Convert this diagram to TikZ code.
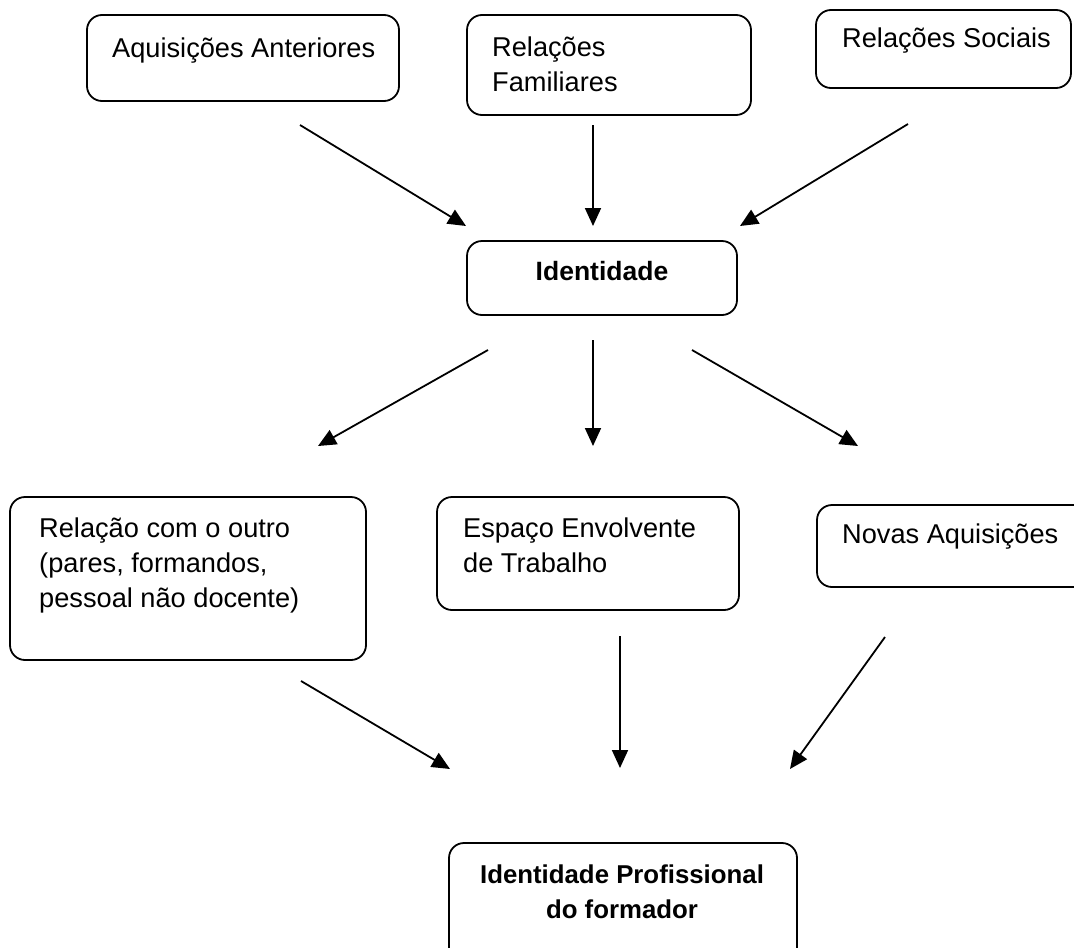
\documentclass[tikz,border=0pt]{standalone}
\usepackage{fontspec}
\setmainfont{Liberation Sans}
\usetikzlibrary{arrows.meta}
\begin{document}
\begin{tikzpicture}[x=1pt,y=-1pt,
  box/.style={draw, line width=1.8pt, rounded corners=15pt, inner sep=0pt},
  txt/.style={anchor=base west, inner sep=0pt, font=\fontsize{27.2}{35}\selectfont},
  btxt/.style={anchor=base, inner sep=0pt, font=\fontsize{25.8}{35}\selectfont\bfseries},
  link/.style={line width=1.8pt, -{Triangle[length=18pt,width=16pt]}}]
\clip (0,0) rectangle (1074,948);

% boxes
\node[box, minimum width=312pt, minimum height=86pt]  (aa) at (243,58) {};
\node[box, minimum width=284pt, minimum height=100pt] (rf) at (609,65) {};
\node[box, minimum width=255pt, minimum height=78pt]  (rs) at (943.5,49) {};
\node[box, minimum width=270pt, minimum height=74pt]  (id) at (602,278) {};
\node[box, minimum width=356pt, minimum height=163pt] (ro) at (188,578.5) {};
\node[box, minimum width=302pt, minimum height=113pt] (ee) at (588,553.5) {};
\node[box, minimum width=280pt, minimum height=82pt]  (na) at (957,546) {};
\node[box, minimum width=348pt, minimum height=130pt] (ip) at (623,908) {};

% labels
\node[txt] (aat) at (112,57) {Aquisições Anteriores};
\node[txt] (rft1) at (492,56) {Relações};
\node[txt] (rft2) at (492,91) {Familiares};
\node[txt] (rst) at (842,47) {Relações Sociais};
\node[btxt, font=\fontsize{26.5}{35}\selectfont\bfseries] (idt) at (602,280) {Identidade};
\node[txt] (rot1) at (39,537) {Relação com o outro};
\node[txt] (rot2) at (39,572) {(pares, formandos,};
\node[txt] (rot3) at (39,607) {pessoal não docente)};
\node[txt] (eet1) at (463,537) {Espaço Envolvente};
\node[txt] (eet2) at (463,572) {de Trabalho};
\node[txt] (nat) at (842,543) {Novas Aquisições};
\node[btxt] (ipt1) at (622,883) {Identidade Profissional};
\node[btxt] (ipt2) at (622,918) {do formador};

% connector end points
\coordinate (a1s) at (300,125); \coordinate (a1e) at (466,226);
\coordinate (a2s) at (593,125); \coordinate (a2e) at (593,226);
\coordinate (a3s) at (908,124); \coordinate (a3e) at (740,226);
\coordinate (b1s) at (488,350); \coordinate (b1e) at (318,446);
\coordinate (b2s) at (593,340); \coordinate (b2e) at (593,446);
\coordinate (b3s) at (692,350); \coordinate (b3e) at (858,446);
\coordinate (c1s) at (301,681); \coordinate (c1e) at (450,769);
\coordinate (c2s) at (620,636); \coordinate (c2e) at (620,768);
\coordinate (c3s) at (885,637); \coordinate (c3e) at (790,769);

% connectors
\draw[link] (a1s) -- (a1e);
\draw[link] (a2s) -- (a2e);
\draw[link] (a3s) -- (a3e);
\draw[link] (b1s) -- (b1e);
\draw[link] (b2s) -- (b2e);
\draw[link] (b3s) -- (b3e);
\draw[link] (c1s) -- (c1e);
\draw[link] (c2s) -- (c2e);
\draw[link] (c3s) -- (c3e);
\end{tikzpicture}
\end{document}
